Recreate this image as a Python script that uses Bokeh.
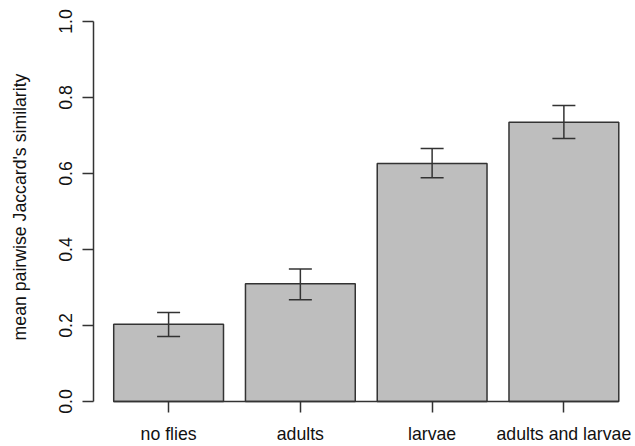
from bokeh.plotting import figure
from bokeh.models import Range1d, FixedTicker, Whisker, TeeHead, ColumnDataSource, LinearAxis
from bokeh.embed import file_html
from bokeh.resources import INLINE

categories = ["no flies", "adults", "larvae", "adults and larvae"]
means = [0.203, 0.310, 0.626, 0.735]
upper = [0.234, 0.349, 0.666, 0.779]
lower = [0.171, 0.268, 0.589, 0.692]
y_ticks = [0.0, 0.2, 0.4, 0.6, 0.8, 1.0]
y_label = "mean pairwise Jaccard's similarity"

# R barplot layout: width 1, space 0.2
bar_w = 1.0
space = 0.2
xs = [space + bar_w / 2 + i * (bar_w + space) for i in range(len(categories))]

src = ColumnDataSource(dict(x=xs, top=means, upper=upper, lower=lower))

FONT = "Liberation Sans"
FS = "17.7px"
INK = "#333333"
TXT = "#111111"

W, H = 635, 446
left, bottom = 93, 33
px_per_y = 380.0
y0_px = 401                      # pixel row of y = 0
px_per_unit = 109.8
frame_w = W - left
frame_h = H - bottom
x0 = 0.016
p = figure(width=W, height=H,
           x_range=Range1d(x0, x0 + frame_w / px_per_unit),
           y_range=Range1d(-(frame_h - y0_px) / px_per_y, y0_px / px_per_y),
           min_border_left=left, min_border_right=0, min_border_top=0, min_border_bottom=bottom,
           output_backend="svg", toolbar_location=None)
p.outline_line_color = None
p.xgrid.visible = False
p.ygrid.visible = False
p.background_fill_color = "white"

p.vbar(x="x", top="top", bottom=0, width=bar_w, source=src,
       fill_color="#bebebe", line_color=INK, line_width=1.5)

wk = Whisker(base="x", upper="upper", lower="lower", source=src,
             line_color=INK, line_width=1.5, level="overlay",
             upper_head=TeeHead(size=23, line_color=INK, line_width=1.5),
             lower_head=TeeHead(size=23, line_color=INK, line_width=1.5))
p.add_layout(wk)

# axis line + ticks at y = 0
xa = p.xaxis[0]
xa.fixed_location = 0
xa.ticker = FixedTicker(ticks=xs)
xa.major_label_overrides = {x: "" for x in xs}
xa.bounds = (xs[0] - bar_w / 2, xs[-1] + bar_w / 2)
xa.axis_line_color = INK
xa.axis_line_width = 1.5
xa.major_tick_line_color = INK
xa.major_tick_line_width = 1.5
xa.major_tick_out = 11
xa.major_tick_in = 0
xa.minor_tick_line_color = None

# category labels below the plot
xlab = LinearAxis(ticker=FixedTicker(ticks=xs),
                  major_label_overrides={x: c for x, c in zip(xs, categories)},
                  axis_line_color=None, major_tick_line_color=None,
                  minor_tick_line_color=None, major_tick_out=0, major_tick_in=0,
                  major_label_text_font=FONT, major_label_text_font_size=FS,
                  major_label_text_color=TXT, major_label_standoff=10)
p.add_layout(xlab, "below")

ya = p.yaxis[0]
ya.ticker = FixedTicker(ticks=y_ticks)
ya.major_label_overrides = {t: f"{t:.1f}" for t in y_ticks}
ya.bounds = (y_ticks[0], y_ticks[-1])
ya.axis_line_color = INK
ya.axis_line_width = 1.5
ya.major_tick_line_color = INK
ya.major_tick_line_width = 1.5
ya.major_tick_out = 11
ya.major_tick_in = 0
ya.minor_tick_line_color = None
ya.major_label_text_font = FONT
ya.major_label_text_font_size = FS
ya.major_label_text_color = TXT
ya.major_label_orientation = "vertical"
ya.major_label_standoff = 11
ya.axis_label = y_label
ya.axis_label_text_font = FONT
ya.axis_label_text_font_size = FS
ya.axis_label_text_font_style = "normal"
ya.axis_label_text_color = TXT
ya.axis_label_standoff = 26

open("out.html", "w").write(file_html(p, INLINE))
